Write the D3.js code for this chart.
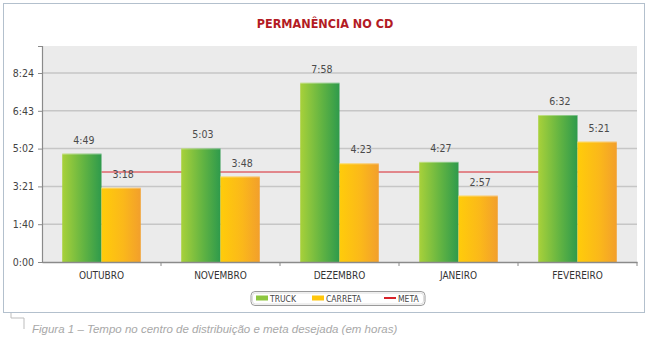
<!DOCTYPE html>
<html>
<head>
<meta charset="utf-8">
<script src="https://cdn.jsdelivr.net/npm/d3@7/dist/d3.min.js"></script>
<style>
  html, body { margin: 0; padding: 0; background: #fff; }
  svg { display: block; }
</style>
</head>
<body>
<svg id="chart" width="650" height="337"></svg>
<script>
// ---- data (minutes) ----
const categories = ["OUTUBRO", "NOVEMBRO", "DEZEMBRO", "JANEIRO", "FEVEREIRO"];
const seriesNames = ["TRUCK", "CARRETA", "META"];
const truckValues = [289, 303, 478, 267, 392];     // 4:49, 5:03, 7:58, 4:27, 6:32
const carretaValues = [198, 228, 263, 177, 321];   // 3:18, 3:48, 4:23, 2:57, 5:21
const metaValues = [240, 240, 240, 240, 240];      // 4:00
const tickValues = [0, 100.8, 201.6, 302.4, 403.2, 504];
const tickLabels = ["0:00", "1:40", "3:21", "5:02", "6:43", "8:24"];
const yMax = 576;
const titleText = "PERMANÊNCIA NO CD";
const captionText = "Figura 1 – Tempo no centro de distribuição e meta desejada (em horas)";

function fmt(m) {
  const h = Math.floor(m / 60), mm = Math.round(m - h * 60);
  return h + ":" + String(mm).padStart(2, "0");
}

const svg = d3.select("#chart");
const font = "'Liberation Sans Narrow', 'DejaVu Sans Condensed', 'Liberation Sans', sans-serif";

// defs
const defs = svg.append("defs");
const gT = defs.append("linearGradient").attr("id", "gTruck").attr("x1", "0").attr("x2", "1").attr("y1", "0").attr("y2", "0");
gT.append("stop").attr("offset", "0%").attr("stop-color", "#a8d13a");
gT.append("stop").attr("offset", "55%").attr("stop-color", "#62b442");
gT.append("stop").attr("offset", "100%").attr("stop-color", "#2e9a4c");
const gC = defs.append("linearGradient").attr("id", "gCarreta").attr("x1", "0").attr("x2", "1").attr("y1", "0").attr("y2", "0");
gC.append("stop").attr("offset", "0%").attr("stop-color", "#ffcc0a");
gC.append("stop").attr("offset", "55%").attr("stop-color", "#fbb81a");
gC.append("stop").attr("offset", "100%").attr("stop-color", "#f29f2c");

// outer frame
svg.append("rect").attr("x", 3.5).attr("y", 3.5).attr("width", 641).attr("height", 309)
  .attr("fill", "#fff").attr("stroke", "#b3c0cd").attr("stroke-width", 1);

// title
svg.append("text").attr("x", 325).attr("y", 28).attr("text-anchor", "middle")
  .attr("font-family", font).attr("font-weight", "bold").attr("font-size", 12.5)
  .attr("fill", "#b31b24").text(titleText);

// scales
const x0 = d3.scaleBand().domain(categories).range([42, 637]).paddingInner(0.34).paddingOuter(0.17);
const x1 = d3.scaleBand().domain(["TRUCK", "CARRETA"]).range([0, x0.bandwidth()]).padding(0);
const y = d3.scaleLinear().domain([0, yMax]).range([262, 46]);

// plot background
svg.append("rect").attr("x", 42).attr("y", y(yMax)).attr("width", 637 - 42).attr("height", y(0) - y(yMax))
  .attr("fill", "#ebebeb");

// gridlines
svg.append("g").selectAll("line").data(tickValues.slice(1)).join("line")
  .attr("x1", 42).attr("x2", 637).attr("y1", d => y(d)).attr("y2", d => y(d))
  .attr("stroke", "#c6c6c6").attr("stroke-width", 1.5);

// y axis
const yAxis = d3.axisLeft(y).tickValues(tickValues).tickSize(4).tickPadding(4)
  .tickFormat((d, i) => tickLabels[i]);
const gy = svg.append("g").attr("transform", "translate(42,0)").call(yAxis);
gy.select(".domain").attr("stroke", "#8a8a8a").attr("stroke-width", 1.2);
gy.selectAll(".tick line").attr("stroke", "#8a8a8a");
gy.selectAll(".tick text").attr("font-family", font).attr("font-size", 10.5).attr("fill", "#444");

// meta line (behind bars)
const lineGen = d3.line().x((d, i) => x0(categories[i]) + x0.bandwidth() / 2).y(d => y(d));
svg.append("path").datum(metaValues).attr("d", lineGen)
  .attr("fill", "none").attr("stroke", "#d8232a").attr("stroke-width", 1);

// bars
const rows = categories.map((c, i) => ({ cat: c, vals: [
  { key: "TRUCK", v: truckValues[i] }, { key: "CARRETA", v: carretaValues[i] } ] }));
const groups = svg.append("g").selectAll("g").data(rows).join("g")
  .attr("transform", d => `translate(${x0(d.cat)},0)`);
groups.selectAll("rect").data(d => d.vals).join("rect")
  .attr("x", d => x1(d.key)).attr("width", x1.bandwidth())
  .attr("y", d => y(d.v)).attr("height", d => y(0) - y(d.v))
  .attr("fill", d => d.key === "TRUCK" ? "url(#gTruck)" : "url(#gCarreta)");
groups.selectAll("line.top").data(d => d.vals).join("line").attr("class", "top")
  .attr("x1", d => x1(d.key)).attr("x2", d => x1(d.key) + x1.bandwidth())
  .attr("y1", d => y(d.v) + 0.5).attr("y2", d => y(d.v) + 0.5)
  .attr("stroke", "#ffffff").attr("stroke-opacity", 0.35);
groups.selectAll("text").data(d => d.vals).join("text")
  .attr("x", d => x1(d.key) + x1.bandwidth() / 2 + 2).attr("y", d => y(d.v) - 10)
  .attr("text-anchor", "middle").attr("font-family", font).attr("font-size", 10.5)
  .attr("fill", "#4a4a4a").text(d => fmt(d.v));

// x axis
const xAxis = d3.axisBottom(x0).tickSize(0).tickPadding(10);
const gx = svg.append("g").attr("transform", `translate(0,${y(0)})`).call(xAxis);
gx.select(".domain").attr("stroke", "#8a8a8a").attr("stroke-width", 1.5);
gx.selectAll(".tick text").attr("font-family", font).attr("font-size", 10).attr("fill", "#333");
const bounds = categories.map(c => x0(c) - x0.step() * x0.paddingInner() / 2).slice(1).concat([637]);
svg.append("g").selectAll("line").data(bounds).join("line")
  .attr("x1", d => d).attr("x2", d => d).attr("y1", y(0)).attr("y2", y(0) + 4)
  .attr("stroke", "#8a8a8a");

// legend
const lg = svg.append("g");
lg.append("rect").attr("x", 251).attr("y", 291.5).attr("width", 174).attr("height", 14).attr("rx", 4)
  .attr("fill", "#fff").attr("stroke", "#9a9a9a").attr("stroke-width", 1);
lg.append("rect").attr("x", 252.5).attr("y", 293).attr("width", 171).attr("height", 11).attr("rx", 3)
  .attr("fill", "none").attr("stroke", "#d6d6d6").attr("stroke-width", 0.8);
const legendItems = [
  { name: seriesNames[0], x: 256, type: "rect", color: "#8dc63f" },
  { name: seriesNames[1], x: 312, type: "rect", color: "#ffc60b" },
  { name: seriesNames[2], x: 384, type: "line", color: "#d8232a" }
];
legendItems.forEach(it => {
  if (it.type === "rect") {
    lg.append("rect").attr("x", it.x).attr("y", 295.5).attr("width", 12).attr("height", 5).attr("fill", it.color);
  } else {
    lg.append("line").attr("x1", it.x).attr("x2", it.x + 12).attr("y1", 298).attr("y2", 298)
      .attr("stroke", it.color).attr("stroke-width", 2);
  }
  lg.append("text").attr("x", it.x + 14).attr("y", 301.5).attr("font-family", font)
    .attr("font-size", 8.5).attr("fill", "#444").text(it.name);
});

// caption bracket + text
svg.append("path").attr("d", "M11,313 V318 H24 V329").attr("fill", "none")
  .attr("stroke", "#bdbdbd").attr("stroke-width", 1);
svg.append("text").attr("x", 32).attr("y", 333).attr("font-family", "'Liberation Sans', sans-serif")
  .attr("font-style", "italic").attr("font-size", 11.5).attr("fill", "#a8a8a8").text(captionText);
</script>
</body>
</html>
